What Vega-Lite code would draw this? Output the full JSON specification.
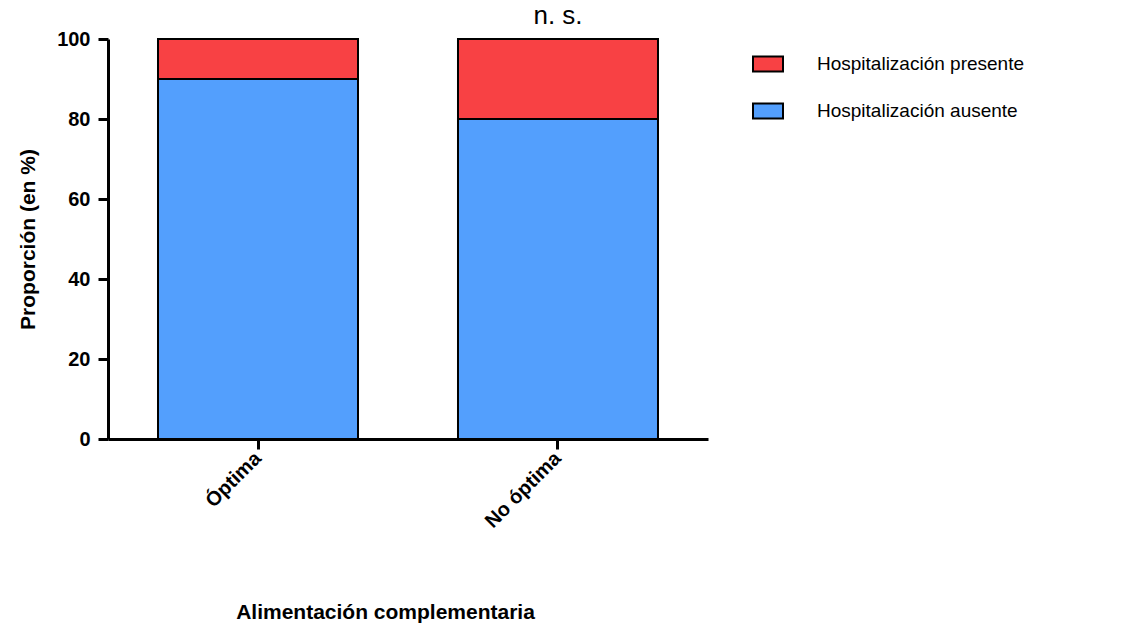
{
  "$schema": "https://vega.github.io/schema/vega-lite/v6.json",
  "width": 600,
  "height": 400,
  "autosize": {"type": "none"},
  "padding": {"left": 108, "top": 39, "right": 419, "bottom": 198},
  "background": "white",
  "config": {
    "view": {"stroke": null},
    "font": "Liberation Sans",
    "axis": {
      "domainColor": "black",
      "domainWidth": 3,
      "tickColor": "black",
      "tickWidth": 3,
      "tickSize": 10,
      "grid": false,
      "labelFont": "Liberation Sans",
      "labelFontWeight": "bold",
      "labelFontSize": 20,
      "labelColor": "black",
      "titleFont": "Liberation Sans",
      "titleFontWeight": "bold",
      "titleFontSize": 21,
      "titleColor": "black"
    }
  },
  "datasets": {
    "bars": [
      {"cat": "Óptima", "grupo": "Hospitalización ausente", "valor": 90, "ord": 1},
      {"cat": "Óptima", "grupo": "Hospitalización presente", "valor": 10, "ord": 2},
      {"cat": "No óptima", "grupo": "Hospitalización ausente", "valor": 80, "ord": 1},
      {"cat": "No óptima", "grupo": "Hospitalización presente", "valor": 20, "ord": 2}
    ],
    "notes": [
      {"cat": "No óptima", "label": "n. s.", "pos": 100}
    ]
  },
  "layer": [
    {
      "data": {"name": "bars"},
      "mark": {"type": "bar", "stroke": "black", "strokeWidth": 2},
      "encoding": {
        "x": {
          "field": "cat",
          "type": "nominal",
          "sort": ["Óptima", "No óptima"],
          "scale": {"paddingInner": 0.3333, "paddingOuter": 0.1667},
          "axis": {
            "title": "Alimentación complementaria",
            "labelAngle": -45,
            "labelAlign": "right",
            "labelBaseline": "middle",
            "labelPadding": 6,
            "titleX": 277,
            "titleY": 173,
            "titleAlign": "center",
            "titleBaseline": "middle"
          }
        },
        "y": {
          "field": "valor",
          "type": "quantitative",
          "stack": "zero",
          "scale": {"domain": [0, 100], "nice": false},
          "axis": {
            "title": "Proporción (en %)",
            "values": [0, 20, 40, 60, 80, 100],
            "labelPadding": 8,
            "titleAngle": -90,
            "titleX": -80,
            "titleY": 200,
            "titleAlign": "center",
            "titleBaseline": "middle"
          }
        },
        "color": {
          "field": "grupo",
          "type": "nominal",
          "scale": {
            "domain": ["Hospitalización presente", "Hospitalización ausente"],
            "range": ["#F84144", "#539FFD"]
          },
          "legend": {
            "title": null,
            "orient": "none",
            "legendX": 644,
            "legendY": 9,
            "symbolType": "M-1,-0.5H1V0.5H-1Z",
            "symbolSize": 900,
            "symbolStrokeColor": "black",
            "symbolStrokeWidth": 2,
            "symbolOpacity": 1,
            "labelFont": "Liberation Sans",
            "labelFontSize": 19,
            "labelColor": "black",
            "labelOffset": 33,
            "rowPadding": 19,
            "labelLimit": 400
          }
        },
        "order": {"field": "ord", "type": "quantitative"}
      }
    },
    {
      "data": {"name": "notes"},
      "mark": {"type": "text", "fontSize": 26, "font": "Liberation Sans", "color": "black", "baseline": "bottom", "dy": -10},
      "encoding": {
        "x": {"field": "cat", "type": "nominal", "sort": ["Óptima", "No óptima"]},
        "y": {"field": "pos", "type": "quantitative"},
        "text": {"field": "label"}
      }
    }
  ]
}
